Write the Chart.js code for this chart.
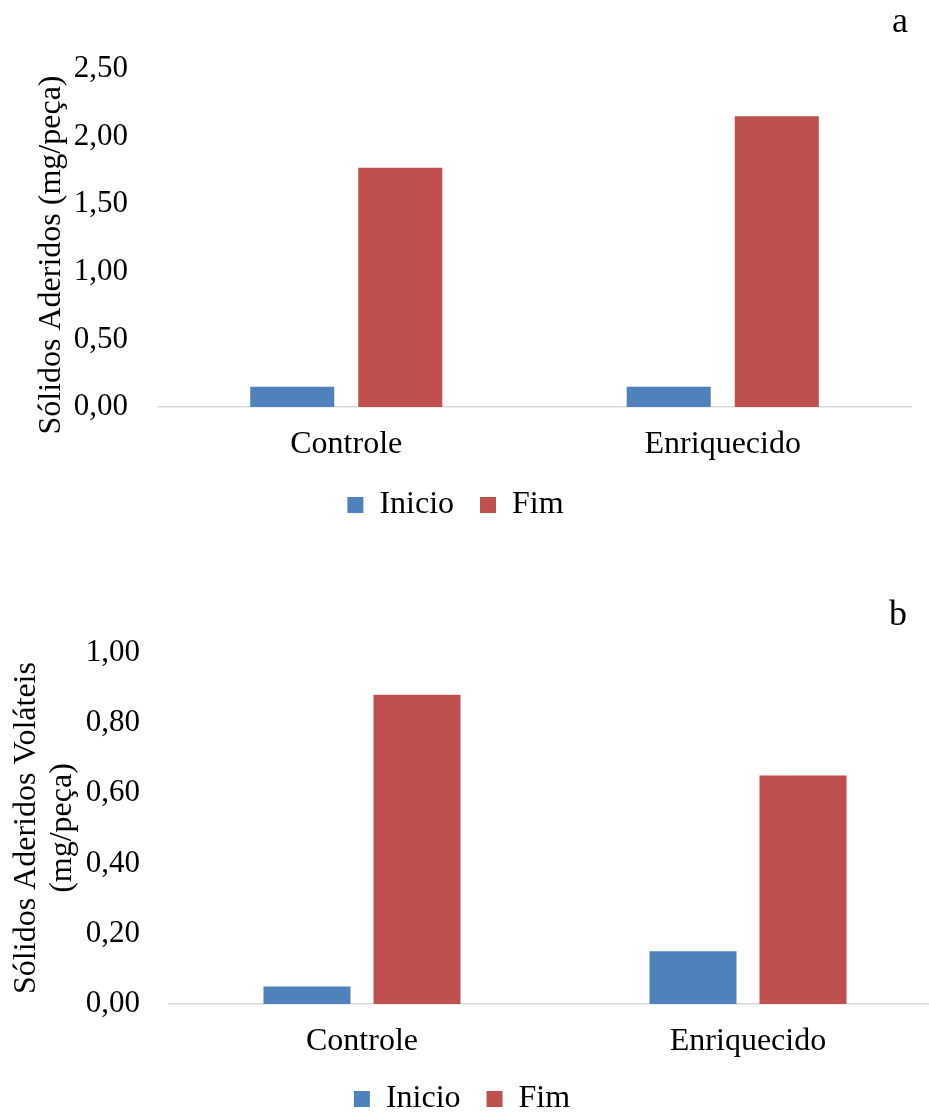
<!DOCTYPE html>
<html>
<head>
<meta charset="utf-8">
<title>Sólidos Aderidos</title>
<script src="https://cdn.jsdelivr.net/npm/chart.js@4/dist/chart.umd.min.js"></script>
<style>
  html, body { margin: 0; padding: 0; background: #fff; }
  body { width: 929px; height: 1113px; position: relative; overflow: hidden; }
  canvas { position: absolute; display: block; }
  #chartA { left: 0; top: 0; }
  #chartB { left: -17px; top: 560px; }
</style>
</head>
<body>
<canvas id="chartA" width="929" height="531"></canvas>
<canvas id="chartB" width="958" height="565"></canvas>
<script>
// Categories and series
const categories = ['Controle', 'Enriquecido'];
const seriesNames = ['Inicio', 'Fim'];

// (a) Sólidos aderidos, mg/peça
const solidsStart = [0.15, 0.15];
const solidsEnd = [1.77, 2.15];
const solidsAxisMax = 2.5;
const solidsAxisStep = 0.5;

// (b) Sólidos aderidos voláteis, mg/peça
const volatileStart = [0.05, 0.15];
const volatileEnd = [0.88, 0.65];
const volatileAxisMax = 1.0;
const volatileAxisStep = 0.2;

const BLUE = '#4F81BD';
const RED = '#C0504D';
const FONT = "'Liberation Serif', 'Times New Roman', Times, serif";

// Draws the rotated axis caption and the panel letter
const captions = {
  id: 'captions',
  afterDraw(chart, args, opts) {
    const ctx = chart.ctx;
    ctx.save();
    ctx.fillStyle = '#000';
    (opts.lines || []).forEach(l => {
      ctx.save();
      ctx.font = l.size + 'px ' + FONT;
      ctx.translate(l.x, l.y);
      ctx.rotate(-Math.PI / 2);
      ctx.textAlign = 'center';
      ctx.textBaseline = 'alphabetic';
      ctx.fillText(l.text, 0, 0);
      ctx.restore();
    });
    if (opts.letter) {
      const p = opts.letter;
      ctx.font = p.size + 'px ' + FONT;
      ctx.textAlign = 'right';
      ctx.textBaseline = 'alphabetic';
      ctx.fillText(p.text, p.x, p.y);
    }
    ctx.restore();
  }
};

const fmt = v => Number(v).toFixed(2).replace('.', ',');

function makeChart(id, cfg) {
  return new Chart(document.getElementById(id), {
    type: 'bar',
    data: {
      labels: categories,
      datasets: [
        { label: seriesNames[0], data: cfg.start, backgroundColor: BLUE, borderWidth: 0,
          barPercentage: cfg.barPct, categoryPercentage: cfg.catPct },
        { label: seriesNames[1], data: cfg.end, backgroundColor: RED, borderWidth: 0,
          barPercentage: cfg.barPct, categoryPercentage: cfg.catPct }
      ]
    },
    options: {
      responsive: false,
      animation: false,
      layout: { padding: { top: cfg.padTop, right: cfg.padRight, left: 0, bottom: 0 } },
      scales: {
        x: {
          grid: { display: false, drawTicks: false },
          border: { display: true, color: '#D9D9D9', width: 1.5 },
          ticks: { color: '#000', font: { family: FONT, size: 32 }, padding: 18, maxRotation: 0 },
          afterFit: s => { s.height = cfg.xHeight; }
        },
        y: {
          min: 0,
          max: cfg.max,
          grid: { display: false, drawTicks: false },
          border: { display: false },
          ticks: { stepSize: cfg.step, color: '#000', font: { family: FONT, size: 31 },
                   padding: cfg.tickPad, callback: fmt },
          afterFit: s => { s.width = cfg.yWidth; }
        }
      },
      plugins: {
        tooltip: { enabled: false },
        legend: {
          position: 'bottom',
          labels: { color: '#000', font: { family: FONT, size: 32 },
                    boxWidth: 16, boxHeight: 16, padding: 26 }
        },
        captions: cfg.captions
      }
    },
    plugins: [captions]
  });
}

makeChart('chartA', {
  start: solidsStart, end: solidsEnd, max: solidsAxisMax, step: solidsAxisStep,
  barPct: 0.778, catPct: 0.574,
  padTop: 69, padRight: 18, xHeight: 56, yWidth: 158, tickPad: 30,
  captions: {
    lines: [{ text: 'Sólidos Aderidos (mg/peça)', x: 60, y: 255, size: 32 }],
    letter: { text: 'a', x: 908, y: 32, size: 36 }
  }
});

makeChart('chartB', {
  start: volatileStart, end: volatileEnd, max: volatileAxisMax, step: volatileAxisStep,
  barPct: 0.791, catPct: 0.570,
  padTop: 92.5, padRight: 0, xHeight: 53, yWidth: 186, tickPad: 29,
  captions: {
    lines: [
      { text: 'Sólidos Aderidos Voláteis', x: 52, y: 268, size: 32 },
      { text: '(mg/peça)', x: 88, y: 268, size: 32 }
    ],
    letter: { text: 'b', x: 924, y: 65, size: 36 }
  }
});
</script>
</body>
</html>
